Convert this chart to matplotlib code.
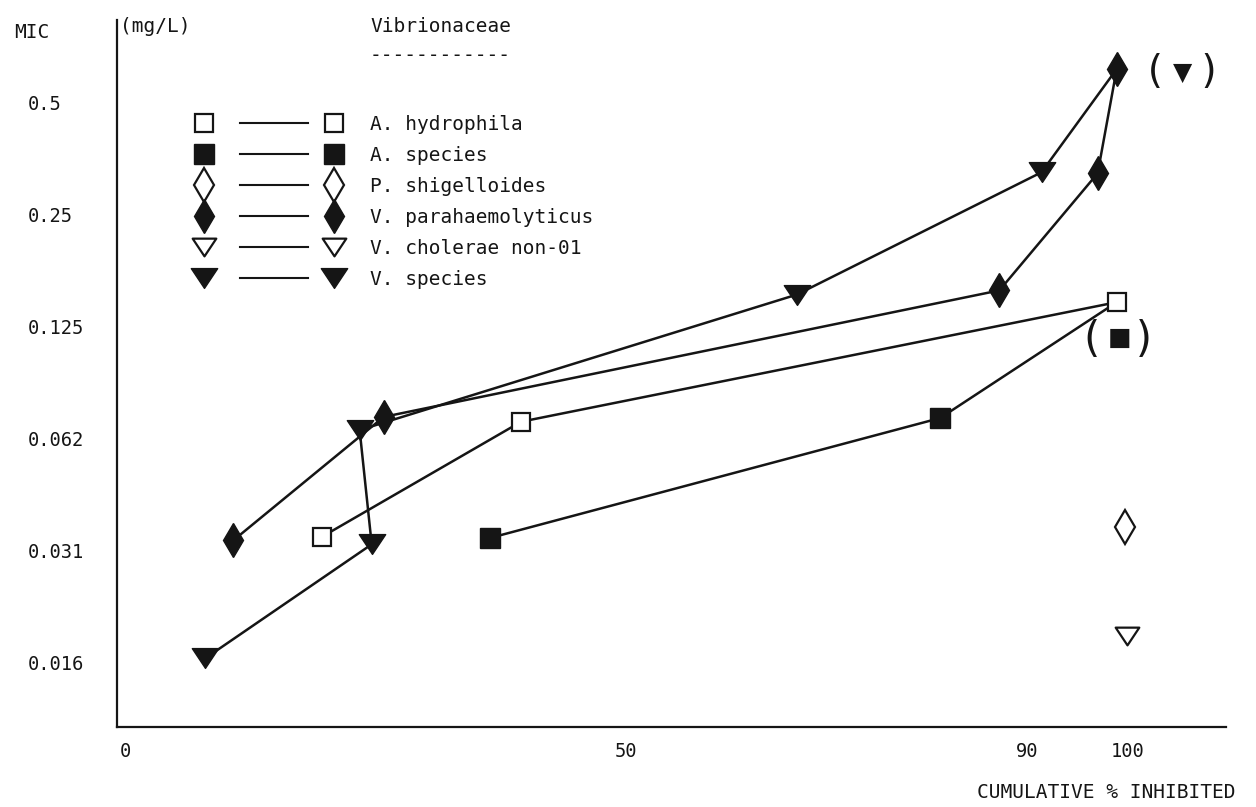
import matplotlib
matplotlib.use("Agg")
import matplotlib.pyplot as plt
from matplotlib.lines import Line2D
from matplotlib.path import Path
from matplotlib.legend_handler import HandlerBase
from matplotlib.ticker import NullLocator, FixedLocator

# ---------------- data ----------------
ah_pct = [19.6, 39.5, 98.9]            # A. hydrophila
ah_mic = [0.0339, 0.0692, 0.145]
as_pct = [36.4, 81.3, 98.9]            # A. species (last point shares the hydrophila marker)
as_mic = [0.0337, 0.0708, 0.145]
ps_pct = [99.7]                        # P. shigelloides
ps_mic = [0.0360]
vp_pct = [10.8, 25.8, 87.2, 97.0, 98.9]   # V. parahaemolyticus
vp_mic = [0.0332, 0.0713, 0.156, 0.322, 0.614]
vc_pct = [99.9]                        # V. cholerae non-01
vc_mic = [0.0184]
vs_pct = [8.0, 24.6, 23.4, 67.0, 91.4, 98.9]   # V. species (last point shares the diamond)
vs_mic = [0.0160, 0.0324, 0.0657, 0.152, 0.324, 0.614]

series_names = ["A. hydrophila", "A. species", "P. shigelloides",
                "V. parahaemolyticus", "V. cholerae non-01", "V. species"]

y_ticks = [1/64, 1/32, 1/16, 1/8, 1/4, 1/2]
y_ticklabels = ["0.016", "0.031", "0.062", "0.125", "0.25", "0.5"]
x_ticks = [0, 50, 90, 100]
x_ticklabels = ["0", "50", "90", "100"]

# ---------------- style ----------------
W, H = 1256, 807
INK = "#151515"
MONO = ["DejaVu Sans Mono", "DejaVu Sans"]
plt.rcParams["font.family"] = MONO

fig = plt.figure(figsize=(W / 100, H / 100), dpi=100)
fig.patch.set_facecolor("white")
L, R, T, B = 117, 1226, 20, 727
ax = fig.add_axes([L / W, 1 - B / H, (R - L) / W, (B - T) / H])

tri_down = Path([(-1, 0.75), (1, 0.75), (0, -0.75), (-1, 0.75)], closed=True)

LW = 1.8
styles = {
    "A. hydrophila": dict(marker="s", ms=13, mfc="white", mec=INK, mew=1.6),
    "A. species": dict(marker="s", ms=14, mfc=INK, mec=INK, mew=1.0),
    "P. shigelloides": dict(marker="d", ms=17, mfc="white", mec=INK, mew=1.6),
    "V. parahaemolyticus": dict(marker="d", ms=17, mfc=INK, mec=INK, mew=1.0),
    "V. cholerae non-01": dict(marker=tri_down, ms=17, mfc="white", mec=INK, mew=1.6),
    "V. species": dict(marker=tri_down, ms=19, mfc=INK, mec=INK, mew=1.0),
}

# lines first
for xs, ys in [(ah_pct, ah_mic), (as_pct, as_mic), (vp_pct, vp_mic), (vs_pct, vs_mic)]:
    ax.plot(xs, ys, "-", color=INK, lw=LW, zorder=2, solid_capstyle="round")

# markers
marker_sets = [
    ("A. hydrophila", ah_pct, ah_mic),
    ("A. species", as_pct[:-1], as_mic[:-1]),
    ("P. shigelloides", ps_pct, ps_mic),
    ("V. parahaemolyticus", vp_pct, vp_mic),
    ("V. cholerae non-01", vc_pct, vc_mic),
    ("V. species", vs_pct[:-1], vs_mic[:-1]),
]
handles = {}
for name, xs, ys in marker_sets:
    st = styles[name]
    (h,) = ax.plot(xs, ys, linestyle="none", zorder=3, label=name, **st)
    handles[name] = h

# annotations marking shared end points
ax.annotate("(", xy=(vs_pct[-1], vs_mic[-1]), xytext=(38, -3), textcoords="offset pixels",
            ha="center", va="center", fontsize=28, color=INK, family=MONO)
ax.annotate("▼", xy=(vs_pct[-1], vs_mic[-1]), xytext=(66, -4), textcoords="offset pixels",
            ha="center", va="center", fontsize=18, color=INK, family=["DejaVu Sans"])
ax.annotate(")", xy=(vs_pct[-1], vs_mic[-1]), xytext=(92, -3), textcoords="offset pixels",
            ha="center", va="center", fontsize=28, color=INK, family=MONO)

ax.annotate("(", xy=(as_pct[-1], as_mic[-1]), xytext=(-26, -38), textcoords="offset pixels",
            ha="center", va="center", fontsize=30, color=INK, family=MONO)
ax.annotate("■", xy=(as_pct[-1], as_mic[-1]), xytext=(3, -36), textcoords="offset pixels",
            ha="center", va="center", fontsize=18, color=INK, family=["DejaVu Sans"])
ax.annotate(")", xy=(as_pct[-1], as_mic[-1]), xytext=(28, -38), textcoords="offset pixels",
            ha="center", va="center", fontsize=30, color=INK, family=MONO)

# axes
ax.set_yscale("log", base=2)
ax.set_xlim(-0.8, 109.8)
ax.set_ylim(2 ** -6.579, 2 ** -0.266)
ax.yaxis.set_major_locator(FixedLocator(y_ticks))
ax.yaxis.set_minor_locator(NullLocator())
ax.set_yticklabels(y_ticklabels)
ax.set_xticks(x_ticks)
ax.set_xticklabels(x_ticklabels)
ax.tick_params(axis="y", length=0, pad=64, labelsize=13.5, labelcolor=INK)
ax.tick_params(axis="x", length=0, pad=11, labelsize=13.5, labelcolor=INK)
for lbl in ax.get_yticklabels():
    lbl.set_horizontalalignment("left")
for s in ["top", "right"]:
    ax.spines[s].set_visible(False)
for s in ["left", "bottom"]:
    ax.spines[s].set_linewidth(1.6)
    ax.spines[s].set_color(INK)
ax.set_facecolor("none")


# legend: marker ---- marker label
class PairHandler(HandlerBase):
    def create_artists(self, legend, orig, xdescent, ydescent, width, height, fontsize, trans):
        y = height / 2 - ydescent
        x0 = -xdescent
        kw = dict(marker=orig.get_marker(), markersize=orig.get_markersize(),
                  markerfacecolor=orig.get_markerfacecolor(),
                  markeredgecolor=orig.get_markeredgecolor(),
                  markeredgewidth=orig.get_markeredgewidth(), linestyle="none")
        m1 = Line2D([x0], [y], **kw)
        m2 = Line2D([x0 + width], [y], **kw)
        ln = Line2D([x0 + 0.28 * width, x0 + 0.80 * width], [y, y], color=INK, lw=1.5)
        for a in (m1, ln, m2):
            a.set_transform(trans)
        return [m1, ln, m2]


FS = 14
fs_px = FS * 100 / 72
leg = ax.legend([handles[n] for n in series_names], series_names,
                handler_map={Line2D: PairHandler()},
                loc="upper left", bbox_to_anchor=(204 / W, 1 - 115 / H),
                bbox_transform=fig.transFigure, frameon=False, borderpad=0,
                borderaxespad=0, fontsize=FS, handlelength=130 / fs_px,
                handletextpad=36 / fs_px, labelspacing=0.62, handleheight=0.7)
for t in leg.get_texts():
    t.set_color(INK)

# header and axis texts
def ftext(x, y, s, **kw):
    fig.text(x / W, 1 - y / H, s, va="center", ha="left", color=INK, fontsize=FS, **kw)

ftext(14, 32, "MIC")
ftext(120, 27, "(mg/L)")
ftext(370, 27, "Vibrionaceae")
ftext(370, 55, "------------")
ftext(977, 792, "CUMULATIVE % INHIBITED")

fig.savefig("out.png", dpi=100, facecolor="white")
